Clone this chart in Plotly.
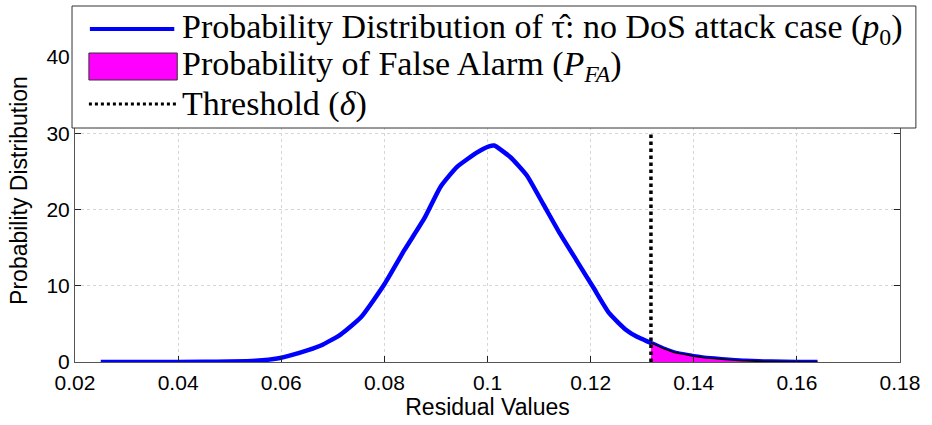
import numpy as np
import plotly.graph_objects as go

# ---- data ----
residual = [0.025, 0.035, 0.045, 0.050, 0.055, 0.0595, 0.0635, 0.0678, 0.0715, 0.0755,
            0.0801, 0.0839, 0.0878, 0.0909, 0.0941, 0.0980, 0.1003, 0.1013, 0.1044, 0.1076,
            0.1109, 0.1140, 0.1172, 0.1205, 0.1236, 0.1269, 0.1290, 0.1317, 0.1340, 0.1365,
            0.1390, 0.1417, 0.1440, 0.1468, 0.1500, 0.1550, 0.1600, 0.1640]
pdf_p0 = [0.0, 0.0, 0.02, 0.05, 0.15, 0.5, 1.2, 2.2, 3.6, 5.9,
          10.3, 14.7, 18.9, 23.0, 25.6, 27.5, 28.3, 28.4, 26.9, 24.5,
          20.6, 16.9, 13.4, 9.8, 6.4, 4.2, 3.3, 2.5, 1.8, 1.2,
          0.9, 0.6, 0.45, 0.3, 0.15, 0.05, 0.01, 0.0]
threshold = 0.1317
threshold_top = 30

x_ticks = [0.02, 0.04, 0.06, 0.08, 0.10, 0.12, 0.14, 0.16, 0.18]
x_ticklabels = ["0.02", "0.04", "0.06", "0.08", "0.1", "0.12", "0.14", "0.16", "0.18"]
y_ticks = [0, 10, 20, 30, 40]

legend_labels = [
    "Probability Distribution of τ̂: no DoS attack case (<i>p</i><sub>0</sub>)",
    "Probability of False Alarm (<i>P</i><sub><i>FA</i></sub>)",
    "Threshold (<i>δ</i>)",
]

# ---- derived fill region ----
xr = np.array(residual)
yr = np.array(pdf_p0)
mask = xr > threshold
fill_x = np.concatenate([[threshold], xr[mask]])
fill_y = np.concatenate([[np.interp(threshold, xr, yr)], yr[mask]])

W, H = 932, 425
L, R, T, B = 75, 26, 19, 63

fig = go.Figure()
fig.add_trace(go.Scatter(x=residual, y=pdf_p0, mode="lines",
                         line=dict(color="#0000ff", width=4.5, shape="spline", smoothing=0.5),
                         showlegend=False))
fig.add_trace(go.Scatter(x=fill_x, y=fill_y, mode="lines", fill="tozeroy",
                         fillcolor="#ff00ff",
                         line=dict(color="black", width=1.5, shape="spline", smoothing=0.5),
                         showlegend=False))
fig.add_trace(go.Scatter(x=[threshold, threshold], y=[0, threshold_top], mode="lines",
                         line=dict(color="black", width=3.5, dash="dot"), showlegend=False))

# ---- custom legend (paper coordinates) ----
pw, ph = W - L - R, H - T - B
def px(xp):
    return (xp - L) / pw
def py(yp):
    return (H - B - yp) / ph

shapes = [
    dict(type="rect", xref="paper", yref="paper", x0=px(72), x1=px(922), y0=py(128), y1=py(6),
         fillcolor="white", line=dict(color="#333333", width=1), layer="above"),
    dict(type="line", xref="paper", yref="paper", x0=px(90), x1=px(175), y0=py(29), y1=py(29),
         line=dict(color="#0000ff", width=4), layer="above"),
    dict(type="rect", xref="paper", yref="paper", x0=px(89), x1=px(178), y0=py(80), y1=py(53),
         fillcolor="#ff00ff", line=dict(color="#333333", width=1), layer="above"),
    dict(type="line", xref="paper", yref="paper", x0=px(89), x1=px(178), y0=py(104), y1=py(104),
         line=dict(color="black", width=3, dash="dot"), layer="above"),
]
annotations = []
for lab, yc in zip(legend_labels, [29, 66, 104]):
    annotations.append(dict(text=lab, xref="paper", yref="paper", x=px(181), y=py(yc),
                            xanchor="left", yanchor="middle", showarrow=False,
                            font=dict(family="Liberation Serif", size=34, color="black")))

fig.update_layout(
    width=W, height=H, margin=dict(l=L, r=R, t=T, b=B),
    paper_bgcolor="white", plot_bgcolor="white",
    font=dict(family="Liberation Sans, Arial", size=21, color="black"),
    shapes=shapes, annotations=annotations, showlegend=False,
)
fig.update_xaxes(range=[0.02, 0.18], tickvals=x_ticks, ticktext=x_ticklabels,
                 showline=True, linecolor="#555555", linewidth=1, mirror="ticks",
                 ticks="inside", ticklen=6, tickcolor="#222222",
                 showgrid=True, gridcolor="#d6d6d6", griddash="dot", gridwidth=1,
                 zeroline=False, ticklabelstandoff=2,
                 title=dict(text="Residual Values", font=dict(size=23), standoff=0))
fig.update_yaxes(range=[0, 45], tickvals=y_ticks,
                 showline=True, linecolor="#555555", linewidth=1, mirror="ticks",
                 ticks="inside", ticklen=6, tickcolor="#222222",
                 showgrid=True, gridcolor="#d6d6d6", griddash="dot", gridwidth=1,
                 zeroline=False,
                 title=dict(text="Probability Distribution", font=dict(size=23), standoff=12))

fig.write_html("out.html")
